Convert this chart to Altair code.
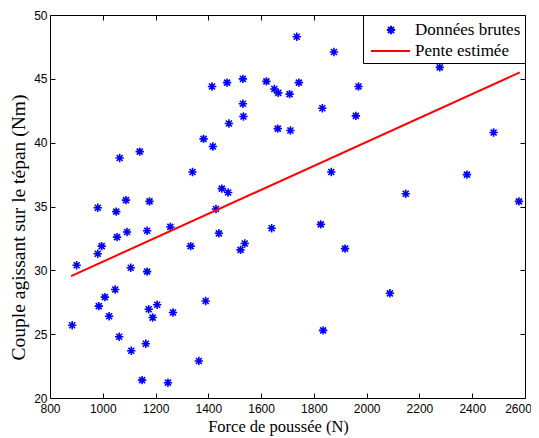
import altair as alt
import pandas as pd

force = [884, 901, 981, 981, 985, 996, 1008, 1024, 1047, 1051, 1054, 1062, 1064, 1088,
         1092, 1106, 1108, 1140, 1149, 1163, 1168, 1168, 1177, 1174, 1189, 1206, 1247,
         1256, 1266, 1333, 1340, 1364, 1382, 1390, 1414, 1417, 1429, 1440, 1451, 1471,
         1475, 1478, 1522, 1531, 1531, 1533, 1538, 1620, 1640, 1650, 1665, 1663, 1708,
         1711, 1735, 1743, 1826, 1832, 1835, 1866, 1876, 1918, 1959, 1969, 2088, 2148,
         2277, 2380, 2481, 2577]
couple = [25.7, 30.4, 34.9, 31.3, 27.2, 31.9, 27.9, 26.4, 28.5, 34.6, 32.6, 24.8, 38.8, 35.5,
          33.0, 30.2, 23.7, 39.3, 21.4, 24.25, 29.9, 33.1, 35.4, 26.95, 26.3, 27.3, 21.2,
          33.4, 26.7, 31.9, 37.7, 22.9, 40.3, 27.6, 44.4, 39.7, 34.8, 32.9, 36.4, 44.7,
          36.1, 41.5, 31.6, 45.0, 43.05, 42.05, 32.1, 44.8, 33.3, 44.2, 43.9, 41.1, 43.8,
          40.95, 48.3, 44.7, 33.6, 42.7, 25.3, 37.7, 47.1, 31.7, 42.1, 44.4, 28.2, 36.0,
          45.9, 37.5, 40.8, 35.4]
line_force = [880, 2580]
line_couple = [29.55, 45.5]
series = ["Données brutes", "Pente estimée"]
colors = ["#0000ff", "#ff0000"]
x_ticks = list(range(800, 2601, 200))
y_ticks = list(range(20, 51, 5))

SERIF = "Liberation Serif, Times New Roman, Times, serif"
SANS = "Liberation Sans, Arial, Helvetica, sans-serif"

# asterisk marker (size 400 -> unit = 10 px)
STAR = "M0,-0.42L0,0.42M-0.42,0L0.42,0M-0.3,-0.3L0.3,0.3M-0.3,0.3L0.3,-0.3"
LEG_STAR = "M1.3,-0.42L1.3,0.42M0.88,0L1.72,0M1.0,-0.3L1.6,0.3M1.0,0.3L1.6,-0.3"
LEG_LINE = "M-0.7,0L3.2,0"

pts = pd.DataFrame({"force": force, "couple": couple, "serie": series[0]})
ln = pd.DataFrame({"force": line_force, "couple": line_couple, "serie": series[1]})

xscale = alt.Scale(domain=[800, 2600], nice=False, zero=False)
yscale = alt.Scale(domain=[20, 50], nice=False, zero=False)

common_axis = dict(tickSize=5, offset=-5, domain=False, grid=False, tickColor="black",
                   labelColor="black", labelFont=SANS, labelFontSize=12,
                   labelFlush=False, format="d", labelOverlap=False,
                   titleFont=SERIF, titleFontWeight="normal",
                   titleColor="black")

leg = alt.Legend(
    orient="top-right", offset=0, title=None, strokeColor="black",
    fillColor="white", padding=4, labelFont=SERIF,
    labelFontSize=17, labelColor="black", symbolSize=400,
    symbolStrokeWidth=2, rowPadding=1, labelOffset=26,
)

x_bottom = alt.X("force:Q", scale=xscale,
                 axis=alt.Axis(values=x_ticks, title="Force de poussée (N)", labelPadding=5,
                               titlePadding=4, titleFontSize=16.5, titleX=228,
                               labelOffset={"condition": {"test": "datum.value === 2600",
                                                          "value": -7}, "value": 0},
                               **common_axis))
y_left = alt.Y("couple:Q", scale=yscale,
               axis=alt.Axis(values=y_ticks, title="Couple agissant sur le tépan (Nm)",
                             labelPadding=3, titlePadding=5, titleFontSize=19.5, titleY=212,
                             **common_axis))

points = alt.Chart(pts).mark_point(shape=STAR, size=400, strokeWidth=1.6, filled=False,
                                   opacity=1, color=colors[0]).encode(
    x=x_bottom, y=y_left,
)

line = alt.Chart(ln).mark_line(strokeWidth=2, color=colors[1]).encode(
    x=alt.X("force:Q", scale=xscale,
            axis=alt.Axis(values=x_ticks, orient="top", labels=False, title=None, **common_axis)),
    y=alt.Y("couple:Q", scale=yscale,
            axis=alt.Axis(values=y_ticks, orient="right", labels=False, title=None, **common_axis)),
)

# layer with no rows: only carries the legend (entries come from the explicit domain)
legend_layer = alt.Chart(pts).transform_filter("false").mark_point(
    size=400, filled=False, opacity=1).encode(
    x=alt.X("force:Q", scale=xscale, axis=None),
    y=alt.Y("couple:Q", scale=yscale, axis=None),
    color=alt.Color("serie:N", scale=alt.Scale(domain=series, range=colors), legend=leg),
    shape=alt.Shape("serie:N", scale=alt.Scale(domain=series, range=[LEG_STAR, LEG_LINE]),
                    legend=leg),
)

chart = alt.layer(points, line, legend_layer).resolve_axis(
    x="independent", y="independent").properties(
    width=475, height=383,
    autosize=alt.AutoSizeParams(type="none"),
    padding={"left": 42, "top": 7, "right": 6, "bottom": 40},
    background="white",
).configure_view(stroke="black", strokeWidth=1).configure_legend(
    labelFont=SERIF, labelFontSize=17
)

chart.save("out.html", embed_options={"renderer": "svg", "actions": False})
